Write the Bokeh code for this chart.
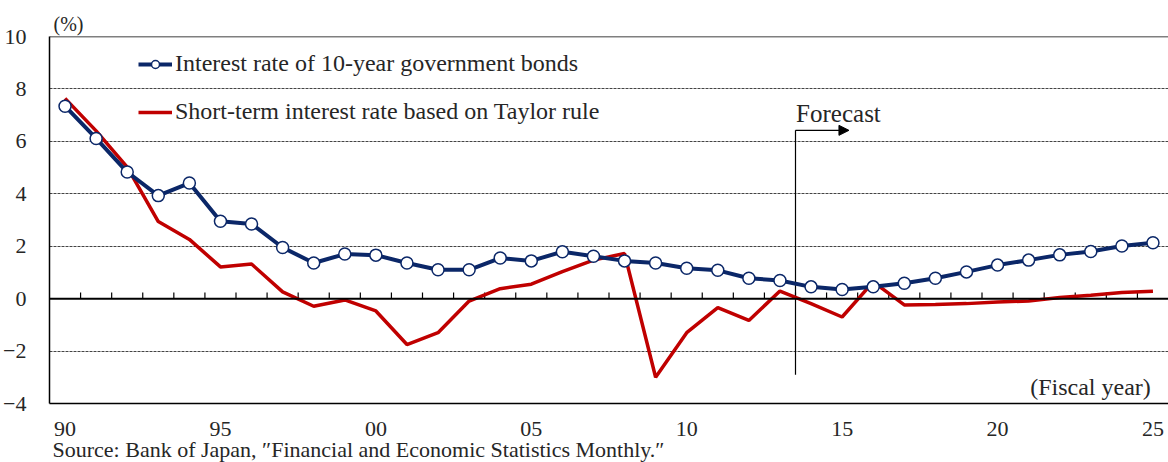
from bokeh.plotting import figure
from bokeh.models import (Span, Label, Arrow, NormalHead, Legend, LegendItem,
                          FixedTicker, ColumnDataSource, Title)
from bokeh.embed import file_html
from bokeh.resources import INLINE

years = list(range(1990, 2026))
bond_10y = [7.34, 6.11, 4.83, 3.93, 4.41, 2.95, 2.85, 1.95, 1.36, 1.70,
            1.66, 1.36, 1.10, 1.10, 1.55, 1.44, 1.79, 1.62, 1.44, 1.36,
            1.16, 1.08, 0.78, 0.69, 0.45, 0.35, 0.45, 0.59, 0.78, 1.02,
            1.28, 1.47, 1.67, 1.80, 2.01, 2.13]
taylor = [7.64, 6.40, 5.02, 2.94, 2.26, 1.21, 1.32, 0.26, -0.29, -0.05,
          -0.47, -1.75, -1.30, -0.09, 0.38, 0.55, 1.03, 1.47, 1.72, -3.00,
          -1.30, -0.34, -0.83, 0.29, -0.19, -0.70, 0.64, -0.24, -0.22, -0.19,
          -0.13, -0.09, 0.04, 0.13, 0.23, 0.28]
x_tick_years = [1990, 1995, 2000, 2005, 2010, 2015, 2020, 2025]
x_tick_labels = ["90", "95", "00", "05", "10", "15", "20", "25"]
y_ticks = [-4, -2, 0, 2, 4, 6, 8, 10]
y_tick_labels = ["\u22124", "\u22122", "0", "2", "4", "6", "8", "10"]
forecast_start = 2013.5

FONT = "Liberation Serif"
NAVY = "#0b2768"
RED = "#c00000"
TXT = "#262626"

src = ColumnDataSource(dict(year=years, bond=bond_10y, taylor=taylor))

p = figure(width=1168, height=462, output_backend="svg", toolbar_location=None,
           x_range=(years[0] - 0.5, years[-1] + 0.5), y_range=(-4, 10),
           min_border_left=49, min_border_right=0, min_border_top=36,
           min_border_bottom=59, outline_line_color=None)
p.background_fill_color = "white"
p.border_fill_color = "white"

# axes
p.yaxis.ticker = FixedTicker(ticks=y_ticks)
p.yaxis.major_label_overrides = {t: l for t, l in zip(y_ticks, y_tick_labels)}
p.yaxis.major_tick_line_color = None
p.yaxis.minor_tick_line_color = None
p.yaxis.axis_line_color = "black"
p.yaxis.axis_line_width = 1.5
p.yaxis.major_label_text_font = FONT
p.yaxis.major_label_text_font_size = "22px"
p.yaxis.major_label_text_color = TXT
p.yaxis.major_label_standoff = 17

p.xaxis.ticker = FixedTicker(ticks=x_tick_years)
p.xaxis.major_label_overrides = {y: l for y, l in zip(x_tick_years, x_tick_labels)}
p.xaxis.major_tick_line_color = None
p.xaxis.minor_tick_line_color = None
p.xaxis.axis_line_color = "black"
p.xaxis.axis_line_width = 1.5
p.xaxis.major_label_text_font = FONT
p.xaxis.major_label_text_font_size = "22px"
p.xaxis.major_label_text_color = TXT
p.xaxis.major_label_standoff = 12

p.xgrid.grid_line_color = None
p.ygrid.ticker = FixedTicker(ticks=[-2, 2, 4, 6, 8])
p.ygrid.grid_line_color = "#444444"
p.ygrid.grid_line_dash = "3 1"
p.ygrid.grid_line_width = 1

p.add_layout(Span(location=10, dimension="width", line_color="black", line_width=1.5))
p.add_layout(Span(location=0, dimension="width", line_color="black", line_width=2))

# small ticks on zero line at category boundaries
bounds = [y + 0.5 for y in years[:-1]]
p.segment(x0=bounds, y0=[0] * len(bounds), x1=bounds, y1=[0.23] * len(bounds),
          line_color="black", line_width=1.2)

# forecast marker
p.segment(x0=[forecast_start], y0=[-2.9], x1=[forecast_start], y1=[6.42],
          line_color="black", line_width=1.2)
p.add_layout(Arrow(end=NormalHead(size=10, fill_color="black", line_color="black"),
                   x_start=forecast_start, y_start=6.42, x_end=forecast_start + 1.72,
                   y_end=6.42, line_color="black", line_width=1.2))
p.add_layout(Label(x=forecast_start + 0.02, y=7.08, text="Forecast", text_font=FONT,
                   text_font_size="25px", text_color=TXT, text_baseline="middle"))

# series
r_red = p.line("year", "taylor", source=src, line_color=RED, line_width=3.5)
r_blue = p.line("year", "bond", source=src, line_color=NAVY, line_width=4)
r_pts = p.scatter("year", "bond", source=src, size=12, fill_color="white",
                  line_color=NAVY, line_width=1.5)

legend = Legend(items=[LegendItem(label="Interest rate of 10-year government bonds",
                                  renderers=[r_blue, r_pts]),
                       LegendItem(label="Short-term interest rate based on Taylor rule",
                                  renderers=[r_red])],
                location=(89, 278), glyph_width=34, glyph_height=20, label_height=20,
                spacing=21, padding=0, margin=0, label_standoff=3,
                label_text_font=FONT, label_text_font_size="24px",
                label_text_color=TXT, border_line_color=None,
                background_fill_alpha=0)
p.add_layout(legend)

# texts
p.add_layout(Label(x=years[-1] - 0.07, y=-3.38, text="(Fiscal year)", text_font=FONT,
                   text_font_size="24px", text_color=TXT, text_baseline="middle",
                   text_align="right"))
p.add_layout(Title(text="(%)", align="left", offset=4, standoff=3, text_font=FONT,
                   text_font_size="20px", text_font_style="normal",
                   text_color=TXT), "above")
p.add_layout(Title(text="Source: Bank of Japan, \u2033Financial and Economic Statistics Monthly.\u2033",
                   align="left", offset=3, standoff=-4, vertical_align="top",
                   text_font=FONT, text_font_size="22px", text_font_style="normal",
                   text_color=TXT), "below")

open("out.html", "w").write(file_html(p, INLINE))
